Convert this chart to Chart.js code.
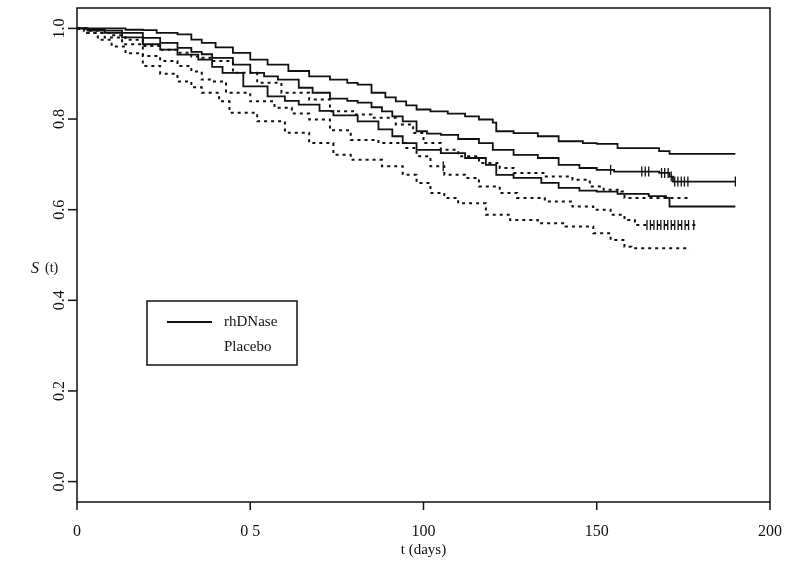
<!DOCTYPE html>
<html>
<head>
<meta charset="utf-8">
<script src="https://cdn.jsdelivr.net/npm/chart.js"></script>
<style>
  html, body { margin: 0; padding: 0; background: #fff; }
</style>
</head>
<body>
<canvas id="kmChart" width="789" height="572"></canvas>
<script>
// axis ticks
const xTicks = [0, 50, 100, 150, 200];
const xTickLabels = ['0', '0 5', '100', '150', '200'];
const yTicks = [0, 0.2, 0.4, 0.6, 0.8, 1.0];
const yTickLabels = ['0.0', '0.2', '0.4', '0.6', '0.8', '1.0'];

const seriesNames = ['rhDNase', 'Placebo'];

// rhDNase: upper band, estimate, lower band  ([day, S(t)])
const rhUpper = [[0,1],[10,1],[14,0.997],[19,0.996],[23,0.99],[29,0.987],[33,0.975],[36,0.968],[40,0.958],[45,0.946],
  [50,0.931],[55,0.92],[61,0.906],[67,0.894],[73,0.887],[78,0.88],[81,0.876],[85,0.858],[89,0.848],[92,0.839],
  [95,0.83],[98,0.821],[102,0.817],[107,0.812],[112,0.806],[116,0.799],[120,0.792],[121,0.773],[126,0.769],[133,0.762],
  [139,0.751],[146,0.747],[150,0.745],[156,0.736],[168,0.729],[171,0.723],[190,0.723]];
const rhEst = [[0,1],[3,0.998],[8,0.995],[13,0.99],[19,0.979],[24,0.968],[29,0.957],[33,0.948],[36,0.943],[39,0.935],
  [45,0.92],[50,0.902],[54,0.894],[58,0.887],[64,0.869],[68,0.858],[73,0.845],[78,0.84],[81,0.836],[85,0.826],
  [88,0.817],[91,0.806],[94,0.795],[98,0.773],[101,0.768],[105,0.765],[110,0.756],[116,0.747],[120,0.732],[126,0.721],
  [133,0.714],[139,0.699],[145,0.692],[150,0.688],[155,0.684],[168,0.681],[171,0.673],[172,0.662],[190,0.662]];
const rhLower = [[0,1],[3,0.995],[8,0.99],[13,0.98],[19,0.965],[24,0.953],[29,0.942],[35,0.931],[39,0.915],[42,0.902],
  [48,0.872],[55,0.85],[60,0.84],[64,0.832],[70,0.818],[74,0.808],[81,0.795],[87,0.777],[91,0.762],[94,0.747],
  [98,0.732],[105,0.725],[112,0.714],[118,0.699],[121,0.677],[126,0.67],[134,0.659],[139,0.648],[145,0.642],[150,0.64],
  [156,0.635],[165,0.63],[170,0.626],[171,0.607],[190,0.607]];

// Placebo: upper band, estimate, lower band
const plUpper = [[0,1],[2,0.995],[6,0.99],[10,0.985],[14,0.975],[19,0.961],[24,0.953],[29,0.946],[33,0.938],[36,0.935],
  [39,0.928],[45,0.902],[52,0.88],[59,0.858],[67,0.843],[73,0.817],[80,0.81],[85,0.803],[92,0.788],[97,0.769],
  [100,0.747],[105,0.732],[110,0.718],[116,0.703],[122,0.692],[126,0.681],[135,0.673],[143,0.666],[148,0.651],[152,0.644],
  [157,0.64],[158,0.626],[177,0.626]];
const plEst = [[0,1],[3,0.99],[8,0.98],[13,0.965],[19,0.939],[24,0.928],[29,0.917],[33,0.905],[36,0.887],[39,0.883],
  [43,0.858],[50,0.839],[57,0.825],[62,0.812],[67,0.799],[73,0.775],[79,0.754],[87,0.747],[95,0.736],[98,0.718],
  [102,0.696],[106,0.677],[112,0.67],[116,0.651],[122,0.637],[127,0.626],[135,0.618],[143,0.607],[149,0.6],[154,0.589],
  [158,0.577],[161,0.566],[179,0.566]];
const plLower = [[0,1],[3,0.99],[6,0.975],[10,0.96],[14,0.945],[19,0.917],[24,0.9],[29,0.883],[33,0.87],[36,0.858],
  [41,0.839],[44,0.814],[52,0.795],[60,0.77],[67,0.747],[74,0.721],[79,0.71],[88,0.696],[94,0.677],[98,0.659],
  [102,0.637],[106,0.626],[110,0.614],[118,0.589],[125,0.577],[133,0.57],[141,0.563],[149,0.548],[154,0.533],[158,0.518],
  [160,0.515],[177,0.515]];

// censoring times (marked with + on the estimates)
const rhCensor = [154, 163, 164, 165, 168.7, 169.6, 170.6, 171.5, 172.5, 173.4, 174.4, 175.3, 176.3, 190];
const plCensor = [105.7, 164.5, 165.5, 166.5, 167.5, 168.5, 169.5, 170.5, 171.5, 172.5, 173.5, 174.5, 175.5, 176.5, 178];

// value of a step curve at time t
function stepAt(curve, t) {
  let v = curve[0][1];
  for (const [x, y] of curve) { if (x <= t) v = y; }
  return v;
}
const toXY = arr => arr.map(([x, y]) => ({x, y}));

const ink = '#111';
const serif = '"Liberation Serif", "DejaVu Serif", serif';

function curveSet(arr, dashed) {
  return {
    type: 'line', data: toXY(arr), stepped: true,
    borderColor: ink, borderWidth: dashed ? 2 : 1.8,
    borderDash: dashed ? [3, 4] : [], pointRadius: 0, fill: false
  };
}
function censorSet(times, curve) {
  return {
    type: 'scatter', data: times.map(t => ({x: t, y: stepAt(curve, t)})),
    pointStyle: 'line', rotation: 90, pointRadius: 5,
    borderColor: ink, pointBorderColor: ink, pointBorderWidth: 1.3, showLine: false
  };
}

const framePlugin = {
  id: 'frame',
  afterDraw(chart) {
    const {ctx, chartArea: a, scales: {x, y}} = chart;
    ctx.save();
    ctx.strokeStyle = ink;
    ctx.fillStyle = ink;
    ctx.lineWidth = 1.5;
    ctx.strokeRect(a.left, a.top, a.right - a.left, a.bottom - a.top);

    // x ticks + labels
    ctx.font = '16px ' + serif;
    ctx.textAlign = 'center';
    ctx.textBaseline = 'middle';
    xTicks.forEach((v, i) => {
      const px = x.getPixelForValue(v);
      ctx.beginPath(); ctx.moveTo(px, a.bottom); ctx.lineTo(px, a.bottom + 8); ctx.stroke();
      ctx.fillText(xTickLabels[i], px, a.bottom + 30);
    });
    // y ticks + rotated labels
    yTicks.forEach((v, i) => {
      const py = y.getPixelForValue(v);
      ctx.beginPath(); ctx.moveTo(a.left, py); ctx.lineTo(a.left - 9, py); ctx.stroke();
      ctx.save();
      ctx.translate(a.left - 17, py);
      ctx.rotate(-Math.PI / 2);
      ctx.fillText(yTickLabels[i], 0, 0);
      ctx.restore();
    });

    // axis titles
    ctx.textAlign = 'left';
    ctx.font = 'italic 16px ' + serif;
    ctx.fillText('S', 31, 269);
    ctx.font = '14px ' + serif;
    ctx.fillText('(t)', 45, 268);
    ctx.textAlign = 'center';
    ctx.font = '15px ' + serif;
    ctx.fillText('t (days)', (a.left + a.right) / 2, 550);

    // legend box
    const lx = 147, ly = 301, lw = 150, lh = 64;
    ctx.lineWidth = 1.5;
    ctx.strokeRect(lx, ly, lw, lh);
    ctx.lineWidth = 1.8;
    ctx.beginPath(); ctx.moveTo(167, 322); ctx.lineTo(212, 322); ctx.stroke();
    ctx.textAlign = 'left';
    ctx.font = '15px ' + serif;
    ctx.fillText(seriesNames[0], 224, 322);
    ctx.fillText(seriesNames[1], 224, 347);
    ctx.restore();
  }
};

new Chart(document.getElementById('kmChart'), {
  data: {
    datasets: [
      curveSet(rhUpper, false), curveSet(rhEst, false), curveSet(rhLower, false),
      curveSet(plUpper, true), curveSet(plEst, true), curveSet(plLower, true),
      censorSet(rhCensor, rhEst), censorSet(plCensor, plEst)
    ]
  },
  options: {
    responsive: false,
    animation: false,
    layout: { padding: { left: 77, right: 19, top: 8, bottom: 70 } },
    plugins: { legend: { display: false }, tooltip: { enabled: false } },
    scales: {
      x: { type: 'linear', min: 0, max: 200, display: false },
      y: { type: 'linear', min: -0.045, max: 1.045, display: false }
    }
  },
  plugins: [framePlugin]
});
</script>
</body>
</html>
